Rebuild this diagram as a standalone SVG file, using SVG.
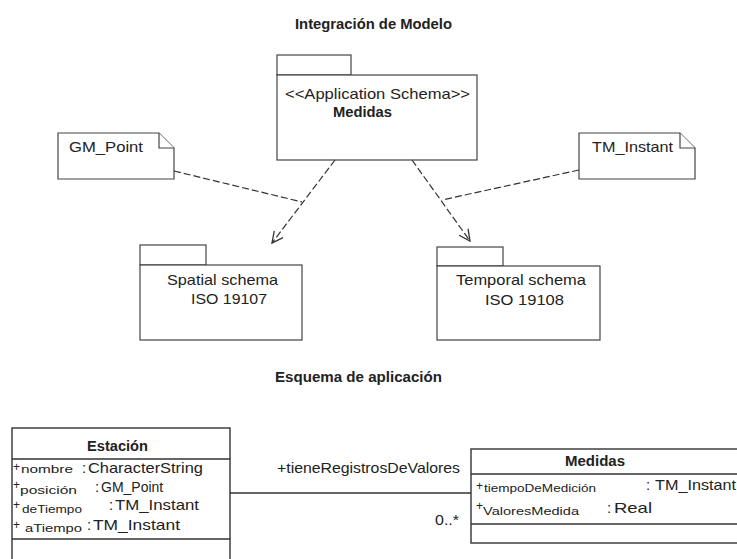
<svg xmlns="http://www.w3.org/2000/svg" width="737" height="559" viewBox="0 0 737 559">
<style>
text{font-family:"Liberation Sans",Arial,sans-serif;fill:#222}
.b{font-weight:bold}
.box{fill:#fff;stroke:#333;stroke-width:1.4}
.pkg{fill:#fff;stroke:#444;stroke-width:1.2}
.dash{fill:none;stroke:#333;stroke-width:1.2;stroke-dasharray:7 3}
.ln{fill:none;stroke:#333;stroke-width:1.4}
.sm{font-size:11px}
.lg{font-size:15px}
</style>
<defs>
<marker id="open" viewBox="0 0 14 14" refX="13" refY="7" markerWidth="14" markerHeight="14" orient="auto" markerUnits="userSpaceOnUse">
<path d="M2,1.5 L13,7 L2,12.5" fill="none" stroke="#333" stroke-width="1.3"/>
</marker>
</defs>
<rect width="737" height="559" fill="#fff"/>
<text class="b" x="295" y="29" font-size="14" textLength="157" lengthAdjust="spacingAndGlyphs">Integración de Modelo</text>
<text class="b" x="275" y="382" font-size="14" textLength="167" lengthAdjust="spacingAndGlyphs">Esquema de aplicación</text>

<g id="pkg-medidas">
<rect class="pkg" x="277" y="55" width="74" height="20"/>
<rect class="pkg" x="277" y="75" width="200" height="85"/>
<text x="285" y="99" class="lg" textLength="185" lengthAdjust="spacingAndGlyphs">&lt;&lt;Application Schema&gt;&gt;</text>
<text class="b" x="333" y="117" font-size="15" textLength="59" lengthAdjust="spacingAndGlyphs">Medidas</text>
</g>

<g id="note-gmpoint">
<path class="pkg" d="M58,133 H159 L174,148 V179 H58 Z"/>
<path class="pkg" d="M159,133 V148 H174" fill="none"/>
<text x="69" y="152" class="lg" textLength="74" lengthAdjust="spacingAndGlyphs">GM_Point</text>
</g>

<g id="note-tminstant">
<path class="pkg" d="M579,133 H680 L695,148 V179 H579 Z"/>
<path class="pkg" d="M680,133 V148 H695" fill="none"/>
<text x="592" y="152" class="lg" textLength="81" lengthAdjust="spacingAndGlyphs">TM_Instant</text>
</g>

<g id="pkg-spatial">
<rect class="pkg" x="140" y="245" width="66" height="20"/>
<rect class="pkg" x="140" y="265" width="162" height="75"/>
<text x="167" y="285" class="lg" textLength="111" lengthAdjust="spacingAndGlyphs">Spatial schema</text>
<text x="191" y="304" class="lg" textLength="76" lengthAdjust="spacingAndGlyphs">ISO 19107</text>
</g>

<g id="pkg-temporal">
<rect class="pkg" x="437" y="247" width="66" height="19"/>
<rect class="pkg" x="437" y="266" width="163" height="74"/>
<text x="456" y="285" class="lg" textLength="130" lengthAdjust="spacingAndGlyphs">Temporal schema</text>
<text x="485" y="305" class="lg" textLength="79" lengthAdjust="spacingAndGlyphs">ISO 19108</text>
</g>

<g id="class-estacion">
<rect class="box" x="12" y="428" width="218" height="140"/>
<line class="ln" x1="12" y1="459" x2="230" y2="459"/>
<line class="ln" x1="12" y1="539" x2="230" y2="539"/>
<text class="b" x="87" y="451" font-size="14" textLength="61" lengthAdjust="spacingAndGlyphs">Estación</text>
<text x="13" y="471" font-size="12">+</text>
<text x="21" y="473" class="sm" textLength="52" lengthAdjust="spacingAndGlyphs">nombre</text>
<text x="82" y="473" class="lg">:</text>
<text x="88" y="473" class="lg" textLength="115" lengthAdjust="spacingAndGlyphs">CharacterString</text>
<text x="13" y="489" font-size="12">+</text>
<text x="20" y="494" class="sm" textLength="57" lengthAdjust="spacingAndGlyphs">posición</text>
<text x="95" y="492" class="lg">:</text>
<text x="101" y="492" font-size="14">GM_Point</text>
<text x="13" y="509" font-size="12">+</text>
<text x="22" y="513" class="sm" textLength="60" lengthAdjust="spacingAndGlyphs">deTiempo</text>
<text x="109" y="510" class="lg">:</text>
<text x="115" y="510" class="lg" textLength="84" lengthAdjust="spacingAndGlyphs">TM_Instant</text>
<text x="13" y="529" font-size="12">+</text>
<text x="25" y="532" class="sm" textLength="57" lengthAdjust="spacingAndGlyphs">aTiempo</text>
<text x="87" y="530" class="lg">:</text>
<text x="93" y="530" class="lg" textLength="87" lengthAdjust="spacingAndGlyphs">TM_Instant</text>
</g>

<g id="class-medidas">
<rect class="box" x="471" y="449" width="270" height="94"/>
<line class="ln" x1="471" y1="474" x2="741" y2="474"/>
<line class="ln" x1="471" y1="524" x2="741" y2="524"/>
<text class="b" x="565" y="466" font-size="14" textLength="60" lengthAdjust="spacingAndGlyphs">Medidas</text>
<text x="476" y="490" font-size="12">+</text>
<text x="484" y="492" class="sm" textLength="112" lengthAdjust="spacingAndGlyphs">tiempoDeMedición</text>
<text x="646" y="490" class="lg">:</text>
<text x="655" y="490" class="lg" textLength="81" lengthAdjust="spacingAndGlyphs">TM_Instant</text>
<text x="476" y="510" font-size="12">+</text>
<text x="483" y="515" class="sm" textLength="96" lengthAdjust="spacingAndGlyphs">ValoresMedida</text>
<text x="607" y="513" class="lg">:</text>
<text x="614" y="513" class="lg" textLength="38" lengthAdjust="spacingAndGlyphs">Real</text>
</g>

<g id="connectors">
<line class="dash" x1="335" y1="160" x2="272" y2="243" marker-end="url(#open)"/>
<line class="dash" x1="412" y1="160" x2="470" y2="241" marker-end="url(#open)"/>
<line class="dash" x1="174" y1="171" x2="302" y2="202"/>
<line class="dash" x1="579" y1="170" x2="442" y2="200"/>
<line class="ln" x1="230" y1="493" x2="471" y2="493"/>
<text x="277" y="473" font-size="14" textLength="183" lengthAdjust="spacingAndGlyphs">+tieneRegistrosDeValores</text>
<text x="435" y="525" font-size="14" textLength="24" lengthAdjust="spacingAndGlyphs">0..*</text>
</g>
</svg>
